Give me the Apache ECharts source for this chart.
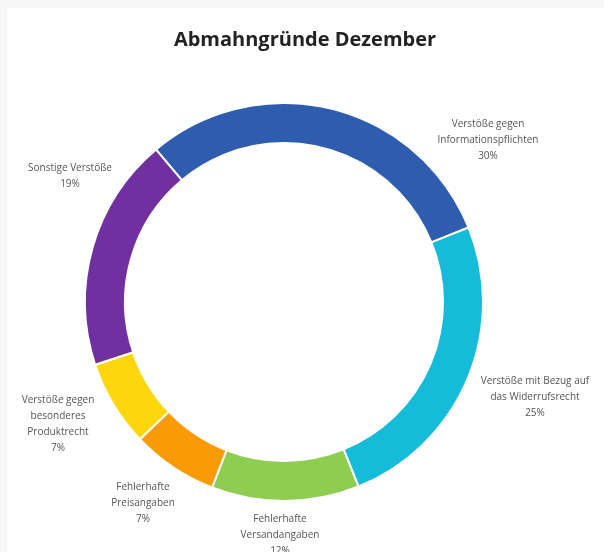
<!DOCTYPE html>
<html>
<head>
<meta charset="utf-8">
<script src="https://cdn.jsdelivr.net/npm/echarts@6/dist/echarts.min.js"></script>
<style>
  html, body { margin: 0; padding: 0; background: #f7f7f7; }
  #chart {
    width: 597px; height: 544px;
    border-top: 8px solid #f7f7f7; border-left: 7px solid #f7f7f7;
    background: #ffffff;
  }
</style>
</head>
<body>
<div id="chart"></div>
<script>
// data
var categories = [
    'Verstöße gegen\nInformationspflichten',
    'Verstöße mit Bezug auf\ndas Widerrufsrecht',
    'Fehlerhafte\nVersandangaben',
    'Fehlerhafte\nPreisangaben',
    'Verstöße gegen\nbesonderes\nProduktrecht',
    'Sonstige Verstöße'
];
var values = [30, 25, 12, 7, 7, 19];
var colors = ['#2e5db0', '#14bcd9', '#8fcd50', '#fa9a05', '#fdd70c', '#7030a0'];

// where Excel put each label (chart pixels)
var labelSpots = [[481, 132], [528, 389], [273, 527], [136, 495], [51, 416], [63, 168]];

var mychart = echarts.init(document.getElementById('chart'));

var option = {
    animation: false,
    title: {
        text: 'Abmahngründe Dezember',
        left: 293,
        textAlign: 'center',
        top: 17,
        textStyle: {
            fontFamily: 'Open Sans',
            fontWeight: 'bold',
            fontSize: 20,
            color: '#222222'
        }
    },
    series: [{
        type: 'pie',
        center: [277, 294],
        radius: [159, 199],
        startAngle: 130,
        clockwise: true,
        itemStyle: {
            borderColor: '#ffffff',
            borderWidth: 2
        },
        label: {
            show: true,
            position: 'outside',
            overflow: 'none',
            fontFamily: 'Open Sans',
            fontSize: 10,
            lineHeight: 16,
            color: '#555555',
            align: 'center',
            formatter: function (p) {
                return p.name + '\n' + p.value + '%';
            }
        },
        labelLine: { show: false },
        labelLayout: function (p) {
            var s = labelSpots[p.dataIndex];
            return { x: s[0], y: s[1], align: 'center', verticalAlign: 'middle' };
        },
        data: values.map(function (v, i) {
            return { name: categories[i], value: v, itemStyle: { color: colors[i] } };
        })
    }]
};

mychart.setOption(option);
</script>
</body>
</html>
